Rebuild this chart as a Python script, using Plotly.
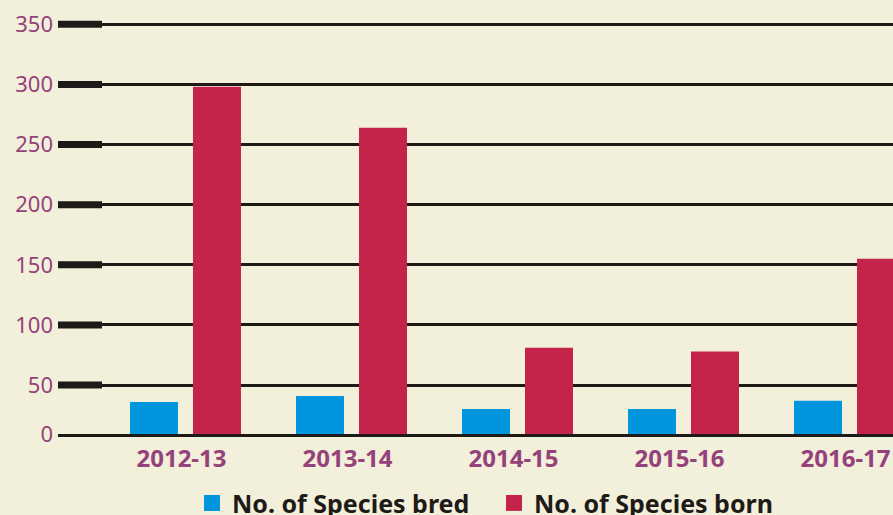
import plotly.graph_objects as go

years = ["2012-13", "2013-14", "2014-15", "2015-16", "2016-17"]
bred = [36, 41, 30, 30, 37]
born = [298, 264, 81, 78, 155]
tick_vals = [50, 100, 150, 200, 250, 300, 350]
tick_text = ["50", "100", "150", "200", "250", "300", "350"]
series_names = ["No. of Species bred", "No. of Species born"]

BASE = 9.3  # value at which the drawn baseline ("0") sits
BG = "#f2efdb"
BLUE = "#0096dd"
RED = "#c42449"
PURPLE = "#944279"
INK = "#1e1a17"
FONT = "Noto Sans"

fig = go.Figure()
fig.add_trace(go.Bar(x=years, y=bred, name=series_names[0], showlegend=False,
                     marker=dict(color=BLUE, line=dict(width=0))))
fig.add_trace(go.Bar(x=years, y=born, name=series_names[1], showlegend=False,
                     marker=dict(color=RED, line=dict(width=0))))
# legend entries with larger square swatches
for nm, col in zip(series_names, [BLUE, RED]):
    fig.add_trace(go.Scatter(x=[None], y=[None], mode="markers", name=nm,
                             marker=dict(symbol="square", size=20, color=col,
                                         line=dict(width=0))))

# thick tick marks at the left of each gridline
for v in tick_vals:
    fig.add_shape(type="line", xref="x domain", yref="y", x0=0, x1=44/835,
                  y0=v, y1=v, line=dict(color=INK, width=7), layer="above")

fig.update_layout(
    width=893, height=515,
    margin=dict(l=58, r=0, t=0, b=80.5, autoexpand=False),
    paper_bgcolor=BG, plot_bgcolor=BG,
    barmode="group", bargap=0.241, bargroupgap=0.238,
    font=dict(family=FONT, color=PURPLE),
    showlegend=True,
    legend=dict(orientation="h", xref="container", yref="container",
                x=0.215, xanchor="left", y=0.023, yanchor="middle",
                entrywidth=257,
                font=dict(family=FONT, size=25, color=INK, weight="bold"),
                bgcolor="rgba(0,0,0,0)", itemwidth=30, tracegroupgap=0),
)
fig.update_xaxes(range=[-0.768, 4.262], showgrid=False, zeroline=False,
                 showline=True, linecolor=INK, linewidth=3, automargin=False,
                 ticks="", tickfont=dict(family=FONT, size=24, color=PURPLE, weight="bold"),
                 ticklabelstandoff=1, ticklabelshift=-4)
fig.update_yaxes(range=[BASE, 370.2], tickvals=[BASE] + tick_vals, ticktext=["0"] + tick_text,
                 showgrid=True, gridcolor=INK, gridwidth=2.5, zeroline=False, automargin=False,
                 showline=False, ticks="", ticklabelstandoff=4,
                 tickfont=dict(family=FONT, size=22, color=PURPLE))

fig.write_html("out.html", config={"displayModeBar": False},
               post_script="document.body.style.margin='0';")
